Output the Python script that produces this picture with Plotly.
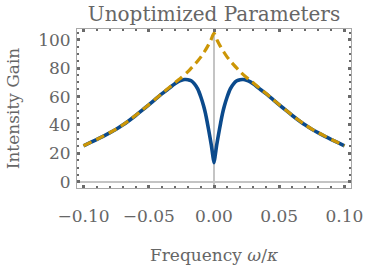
import plotly.graph_objects as go

freq_dashed = [-0.1, -0.095, -0.09, -0.085, -0.08, -0.075, -0.07, -0.065, -0.06, -0.055, -0.05, -0.045,
               -0.04, -0.035, -0.03, -0.0275, -0.025, -0.02, -0.0175, -0.015, -0.0125, -0.01, -0.0075, -0.005, -0.0025,
               0.0,
               0.0025, 0.005, 0.0075, 0.01, 0.0125, 0.015, 0.0175, 0.02, 0.025, 0.0275, 0.03, 0.035, 0.04,
               0.045, 0.05, 0.055, 0.06, 0.065, 0.07, 0.075, 0.08, 0.085, 0.09, 0.095, 0.1]
gain_dashed = [25.4, 27.6, 29.8, 32.1, 34.5, 37.1, 40.0, 43.3, 46.8, 50.5, 54.3, 58.2,
               62.1, 65.9, 69.7, 71.6, 73.4, 77.6, 80.0, 82.5, 85.1, 88.0, 91.4, 95.2, 99.5,
               104.5,
               99.5, 95.2, 91.4, 88.0, 85.1, 82.5, 80.0, 77.6, 73.4, 71.6, 69.7, 65.9, 62.1,
               58.2, 54.3, 50.5, 46.8, 43.3, 40.0, 37.1, 34.5, 32.1, 29.8, 27.6, 25.4]

freq_solid = [-0.1, -0.095, -0.09, -0.085, -0.08, -0.075, -0.07, -0.065, -0.06, -0.055, -0.05, -0.045,
              -0.04, -0.035, -0.0325, -0.03, -0.0275, -0.025, -0.0225, -0.02, -0.0175, -0.015, -0.0125, -0.01,
              -0.008, -0.0065, -0.005, -0.0035, -0.002, -0.001,
              0.0,
              0.001, 0.002, 0.0035, 0.005, 0.0065, 0.008, 0.01, 0.0125, 0.015, 0.0175, 0.02, 0.0225,
              0.025, 0.0275, 0.03, 0.0325, 0.035, 0.04,
              0.045, 0.05, 0.055, 0.06, 0.065, 0.07, 0.075, 0.08, 0.085, 0.09, 0.095, 0.1]
gain_solid = [25.3, 27.5, 29.7, 32.0, 34.4, 37.0, 39.9, 43.2, 46.7, 50.4, 54.2, 58.1,
              61.9, 65.4, 67.3, 69.0, 70.5, 71.5, 72.0, 71.9, 71.1, 69.0, 65.4, 59.5,
              53.5, 48.0, 41.0, 33.5, 25.5, 19.0,
              13.5,
              19.0, 25.5, 33.5, 41.0, 48.0, 53.5, 59.5, 65.4, 69.0, 71.1, 71.9, 72.0,
              71.5, 70.5, 69.0, 67.3, 65.4, 61.9,
              58.1, 54.2, 50.4, 46.7, 43.2, 39.9, 37.0, 34.4, 32.0, 29.7, 27.5, 25.3]

x_tickvals = [-0.1, -0.05, 0.0, 0.05, 0.1]
x_ticktext = ["\u22120.10", "\u22120.05", "0.00", "0.05", "0.10"]
y_tickvals = [0, 20, 40, 60, 80, 100]

title_text = "Unoptimized Parameters"
x_title = "Frequency <i>\u03c9</i>/<i>\u03ba</i>"
y_title = "Intensity Gain"

FONT = "DejaVu Serif"
TXT = "#666666"
TICKC = "#6a6a6a"

fig = go.Figure()
fig.add_trace(go.Scatter(x=freq_solid, y=gain_solid, mode="lines",
                         line=dict(color="#0b4a8c", width=3.6, shape="spline", smoothing=0.8),
                         showlegend=False, hoverinfo="skip"))
fig.add_trace(go.Scatter(x=freq_dashed, y=gain_dashed, mode="lines",
                         line=dict(color="#cc9606", width=3.2, dash="9px,5px", shape="spline", smoothing=0.8),
                         showlegend=False, hoverinfo="skip"))

common = dict(showgrid=False, showline=True, linecolor="#a8a8a8", linewidth=1, mirror="ticks",
              ticks="inside", tickcolor=TICKC, tickwidth=3, ticklen=3,
              zeroline=True, zerolinecolor="#c4c4c4", zerolinewidth=1.5,
              tickfont=dict(family=FONT, size=17, color=TXT))

fig.update_xaxes(range=[-0.105, 0.105], tickvals=x_tickvals, ticktext=x_ticktext,
                 minor=dict(ticks="inside", ticklen=2, tickwidth=2, tickcolor=TICKC, dtick=0.01, tick0=0),
                 title=dict(text=x_title, font=dict(family=FONT, size=17, color=TXT), standoff=23),
                 ticklabelstandoff=13,
                 **common)
fig.update_yaxes(range=[-4.4, 107.6], tickvals=y_tickvals,
                 minor=dict(ticks="inside", ticklen=2, tickwidth=2, tickcolor=TICKC, dtick=5, tick0=0),
                 title=dict(text=y_title, font=dict(family=FONT, size=17, color=TXT), standoff=14),
                 ticklabelstandoff=2,
                 **common)

fig.update_layout(
    width=375, height=273,
    margin=dict(l=76, r=16, t=29, b=70),
    paper_bgcolor="white", plot_bgcolor="white",
    title=dict(text=title_text, x=0.5, xref="paper", xanchor="center",
               y=1 - 14 / 273, yref="container", yanchor="middle",
               font=dict(family=FONT, size=20, color=TXT)),
)

fig.write_html("out.html", config={"displayModeBar": False})
